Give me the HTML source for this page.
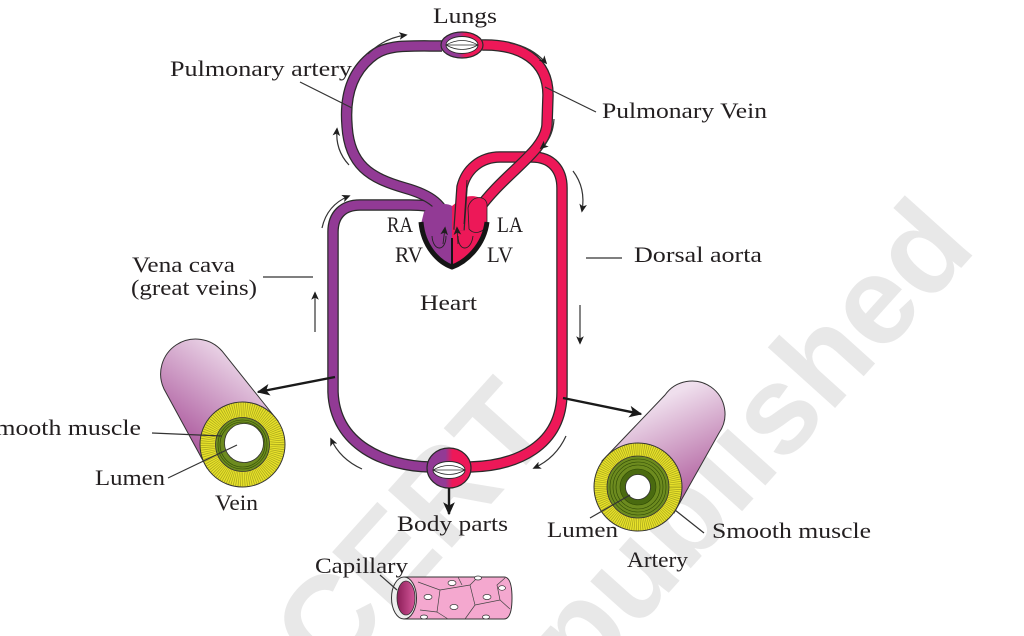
<!DOCTYPE html>
<html><head><meta charset="utf-8"><style>
html,body{margin:0;padding:0;background:#fff;width:1024px;height:636px;overflow:hidden;}
svg{display:block;overflow:hidden;}
</style></head><body>
<svg width="1024" height="636" viewBox="0 0 1024 636" xmlns="http://www.w3.org/2000/svg">
<defs>
 <clipPath id="frame"><rect x="0" y="0" width="1024" height="636"/></clipPath>
 <marker id="sa" viewBox="0 0 10 10" refX="8" refY="5" markerWidth="8.5" markerHeight="8.5" orient="auto" markerUnits="userSpaceOnUse"><path d="M0,0.5 L10,5 L0,9.5 L2.5,5Z" fill="#1e1e1e"/></marker>
 <marker id="ba" viewBox="0 0 10 10" refX="9" refY="5" markerWidth="15" markerHeight="13" orient="auto" markerUnits="userSpaceOnUse"><path d="M0,0.5 L10,5 L0,9.5 L2.5,5Z" fill="#1a1a1a"/></marker>
 <linearGradient id="pr" x1="0" x2="1" y1="0" y2="0"><stop offset="0" stop-color="#923a95"/><stop offset="0.42" stop-color="#923a95"/><stop offset="0.58" stop-color="#ed1858"/><stop offset="1" stop-color="#ed1858"/></linearGradient>
 <linearGradient id="vb" gradientUnits="userSpaceOnUse" x1="235" y1="350" x2="170" y2="440"><stop offset="0" stop-color="#eddaea"/><stop offset="1" stop-color="#a9539a"/></linearGradient>
 <linearGradient id="ab" gradientUnits="userSpaceOnUse" x1="670" y1="395" x2="712" y2="485"><stop offset="0" stop-color="#efdfed"/><stop offset="1" stop-color="#b1609f"/></linearGradient>
 <linearGradient id="cg" x1="0" x2="1"><stop offset="0" stop-color="#8c1e58"/><stop offset="1" stop-color="#d4579a"/></linearGradient>
</defs>

<!-- watermark (behind) -->
<g clip-path="url(#frame)">
<g opacity="0.085" font-family="'Liberation Sans', sans-serif" font-weight="bold" font-size="125" fill="#000">
 <text x="330" y="683" transform="rotate(-48 330 683)">CERT</text>
 <text x="583" y="688" transform="rotate(-48 583 688)">published</text>
</g>
</g>

<!-- systemic purple -->
<g fill="none" stroke-linejoin="round">
 <path d="M440,212 C430,205 420,205 410,205 L360,205 C343,205 333,215 333,232 L333,392 C335,445 385,466 430,467" stroke="#2a2a2a" stroke-width="11.5"/>
 <path d="M440,212 C430,205 420,205 410,205 L360,205 C343,205 333,215 333,232 L333,392 C335,445 385,466 430,467" stroke="#923a95" stroke-width="9"/>
 <!-- pulmonary artery -->
 <path d="M442,46 C405,46 385,44 370,58 C350,75 345,100 347,125 C349,165 370,178 405,188 C430,195 445,205 447,225" stroke="#2a2a2a" stroke-width="11.5"/>
 <path d="M442,46 C405,46 385,44 370,58 C350,75 345,100 347,125 C349,165 370,178 405,188 C430,195 445,205 447,225" stroke="#923a95" stroke-width="9"/>
</g>

<!-- heart halves -->
<path d="M452,206 C446,202 432,204 424,212 L421,224 C423,246 438,262 452,266 Z" fill="#923a95"/>
<path d="M452,266 C466,262 483,246 486,224 L486,206 C484,196 472,194 462,198 L452,206 Z" fill="#ed1858"/>

<!-- red systemic + aorta -->
<g fill="none" stroke-linejoin="round">
 <path d="M470,467 C515,466 562,447 562,392 L562,188 C562,170 552,157 532,157 L500,157 C480,157 466,170 462,187 L459,230" stroke="#2a2a2a" stroke-width="11.5"/>
 <path d="M470,467 C515,466 562,447 562,392 L562,188 C562,170 552,157 532,157 L500,157 C480,157 466,170 462,187 L459,230" stroke="#ed1858" stroke-width="9"/>
 <!-- pulmonary vein -->
 <path d="M482,45 C520,44 548,60 548,95 L547,125 C545,152 505,172 478,210" stroke="#2a2a2a" stroke-width="11.5"/>
 <path d="M482,45 C520,44 548,60 548,95 L547,125 C545,152 505,172 478,210" stroke="#ed1858" stroke-width="9"/>
</g>
<!-- LA lobe -->
<path d="M468,208 C470,196 485,194 487,204 L487,224 C484,233 474,235 469,229 Z" fill="#ed1858" stroke="#222" stroke-width="0.8"/>
<!-- heart border -->
<path d="M421,222 C423,246 438,262 452,267 C466,262 484,246 487,222" fill="none" stroke="#151515" stroke-width="5"/>
<line x1="452" y1="238" x2="452" y2="265" stroke="#151515" stroke-width="2"/>
<g fill="none" stroke="#222" stroke-width="0.9">
 <path d="M432,236 C433,252 446,252 446,236"/>
 <path d="M458,236 C458,252 471,252 473,236"/>
 <path d="M443,244 L445,228" marker-end="url(#sa)"/>
 <path d="M458,244 L457,228" marker-end="url(#sa)"/>
 <path d="M464,224 L467,180"/>
</g>

<!-- lung capillary -->
<ellipse cx="462" cy="45" rx="21" ry="13" fill="url(#pr)" stroke="#2a2a2a" stroke-width="1.2"/>
<ellipse cx="462" cy="45" rx="16" ry="8.5" fill="#fff" stroke="#2a2a2a" stroke-width="0.9"/>
<g fill="none" stroke="#2a2a2a" stroke-width="0.8">
 <path d="M446,45 Q462,36 478,45"/><path d="M446,45 Q462,54 478,45"/><path d="M446,45 L478,45"/>
</g>

<!-- body capillary -->
<ellipse cx="449" cy="468" rx="22" ry="20" fill="url(#pr)" stroke="#2a2a2a" stroke-width="1.2"/>
<ellipse cx="449" cy="470" rx="16" ry="8.5" fill="#fff" stroke="#2a2a2a" stroke-width="0.9"/>
<g fill="none" stroke="#2a2a2a" stroke-width="0.8">
 <path d="M433,470 Q449,461 465,470"/><path d="M433,470 Q449,479 465,470"/><path d="M433,470 L465,470"/>
</g>

<!-- small flow arrows -->
<g fill="none" stroke="#333" stroke-width="1.2" marker-end="url(#sa)">
 <path d="M368,54 Q384,38 406,35"/>
 <path d="M510,43 Q532,47 546,63"/>
 <path d="M349,165 Q335,150 337,129"/>
 <path d="M554,119 Q553,138 541,148"/>
 <path d="M573,171 Q586,188 582,211"/>
 <path d="M322,228 Q327,205 349,196"/>
 <path d="M315,332 L315,293"/>
 <path d="M580,305 L580,343"/>
 <path d="M362,469 Q340,459 331,439"/>
 <path d="M566,436 Q556,458 534,468"/>
</g>
<!-- big arrows -->
<g stroke="#1a1a1a" stroke-width="2.4" fill="none" marker-end="url(#ba)">
 <path d="M335,377 L258,392"/>
 <path d="M563,398 L641,414"/>
 <path d="M449,488 L449,514"/>
</g>

<!-- vein cross-section -->
<path d="M207,468 L164,389 A35,35 0 0 1 222,351 L278,421 Z" fill="url(#vb)" stroke="#333" stroke-width="1"/>
<circle cx="242.5" cy="444.5" r="42.5" fill="#e8e22a" stroke="#333" stroke-width="1"/>
<circle cx="242.5" cy="444.5" r="34.8" fill="none" stroke="#6a6a10" stroke-opacity="0.5" stroke-width="14" stroke-dasharray="0.7 1.3"/>
<circle cx="242.5" cy="444.5" r="27" fill="#6d8b1f" stroke="#333" stroke-width="0.8"/>
<circle cx="242.5" cy="444.5" r="24.5" fill="none" stroke="#2f4a05" stroke-width="0.6"/>
<circle cx="242.5" cy="444.5" r="22.5" fill="none" stroke="#2f4a05" stroke-width="0.6"/>
<circle cx="244" cy="443" r="19.5" fill="#fff" stroke="#333" stroke-width="0.8"/>

<!-- artery cross-section -->
<path d="M602,461 L665,395 A33,33 0 0 1 719,433 L674,513 Z" fill="url(#ab)" stroke="#333" stroke-width="1"/>
<circle cx="638" cy="487" r="44" fill="#e8e22a" stroke="#333" stroke-width="1"/>
<circle cx="638" cy="487" r="37.5" fill="none" stroke="#6a6a10" stroke-opacity="0.5" stroke-width="12" stroke-dasharray="0.7 1.3"/>
<circle cx="638" cy="487" r="31" fill="#6d8b1f" stroke="#333" stroke-width="0.8"/>
<circle cx="638" cy="487" r="28" fill="none" stroke="#2f4a05" stroke-width="0.6"/>
<circle cx="638" cy="487" r="25" fill="none" stroke="#2f4a05" stroke-width="0.6"/>
<circle cx="638" cy="487" r="22" fill="none" stroke="#2f4a05" stroke-width="0.6"/>
<circle cx="638" cy="487" r="18" fill="#4a6a10" stroke="#2f4a05" stroke-width="0.6"/>
<circle cx="638" cy="487" r="12.5" fill="#fff" stroke="#333" stroke-width="0.8"/>

<!-- capillary -->
<path d="M404,577 L504,577 Q512,577 512,598 Q512,619 504,619 L404,619 Z" fill="#f4a8cf" stroke="#333" stroke-width="1"/>
<g fill="none" stroke="#444" stroke-width="0.7">
 <path d="M418,582 L440,590 L437,612 L448,619"/>
 <path d="M440,590 L470,585 L478,577"/>
 <path d="M470,585 L475,605 L465,619"/>
 <path d="M475,605 L500,600 L510,609"/>
 <path d="M500,600 L497,585 L505,578"/>
 <path d="M437,612 L420,610"/>
 <path d="M458,577 L462,585"/>
</g>
<g fill="#fff" stroke="#333" stroke-width="0.7">
 <ellipse cx="452" cy="583" rx="4" ry="2.6"/>
 <ellipse cx="428" cy="597" rx="4" ry="2.6"/>
 <ellipse cx="487" cy="597" rx="4" ry="2.6"/>
 <ellipse cx="454" cy="607" rx="4" ry="2.6"/>
 <ellipse cx="502" cy="588" rx="3.5" ry="2.3"/>
 <ellipse cx="478" cy="578" rx="3.5" ry="2"/>
 <ellipse cx="424" cy="617" rx="3.5" ry="2"/>
 <ellipse cx="486" cy="617" rx="3.5" ry="2"/>
</g>
<ellipse cx="404" cy="598" rx="12.5" ry="21" fill="#eee" stroke="#333" stroke-width="1"/>
<ellipse cx="406" cy="598" rx="9" ry="17" fill="url(#cg)" stroke="#333" stroke-width="0.8"/>

<!-- label lines -->
<g stroke="#333" stroke-width="1.2" fill="none">
 <line x1="300" y1="82" x2="352" y2="108"/>
 <line x1="545" y1="87" x2="596" y2="112"/>
 <line x1="263" y1="277" x2="313" y2="277"/>
 <line x1="586" y1="258" x2="622" y2="258"/>
 <line x1="152" y1="433" x2="222" y2="436"/>
 <line x1="168" y1="478" x2="237" y2="445"/>
 <line x1="590" y1="518" x2="630" y2="495"/>
 <line x1="675" y1="510" x2="704" y2="533"/>
 <line x1="380" y1="575" x2="397" y2="590"/>
</g>

<!-- labels -->
<g font-family="'Liberation Serif', serif" font-size="22" fill="#231f20">
 <text x="433" y="23" textLength="64" lengthAdjust="spacingAndGlyphs">Lungs</text>
 <text x="170" y="76" textLength="182" lengthAdjust="spacingAndGlyphs">Pulmonary artery</text>
 <text x="602" y="118" textLength="165" lengthAdjust="spacingAndGlyphs">Pulmonary Vein</text>
 <text x="387" y="232" textLength="26" lengthAdjust="spacingAndGlyphs">RA</text>
 <text x="497" y="232" textLength="26" lengthAdjust="spacingAndGlyphs">LA</text>
 <text x="395" y="262" textLength="28" lengthAdjust="spacingAndGlyphs">RV</text>
 <text x="487" y="262" textLength="26" lengthAdjust="spacingAndGlyphs">LV</text>
 <text x="420" y="310" textLength="57" lengthAdjust="spacingAndGlyphs">Heart</text>
 <text x="634" y="262" textLength="128" lengthAdjust="spacingAndGlyphs">Dorsal aorta</text>
 <text x="132" y="272" textLength="103" lengthAdjust="spacingAndGlyphs">Vena cava</text>
 <text x="131" y="295" textLength="126" lengthAdjust="spacingAndGlyphs">(great veins)</text>
 <text x="-19" y="435" textLength="160" lengthAdjust="spacingAndGlyphs">Smooth muscle</text>
 <text x="95" y="485" textLength="70" lengthAdjust="spacingAndGlyphs">Lumen</text>
 <text x="215" y="510" textLength="43" lengthAdjust="spacingAndGlyphs">Vein</text>
 <text x="397" y="531" textLength="111" lengthAdjust="spacingAndGlyphs">Body parts</text>
 <text x="547" y="537" textLength="71" lengthAdjust="spacingAndGlyphs">Lumen</text>
 <text x="712" y="538" textLength="159" lengthAdjust="spacingAndGlyphs">Smooth muscle</text>
 <text x="627" y="567" textLength="61" lengthAdjust="spacingAndGlyphs">Artery</text>
 <text x="315" y="573" textLength="93" lengthAdjust="spacingAndGlyphs">Capillary</text>
</g>
</svg>
</body></html>
